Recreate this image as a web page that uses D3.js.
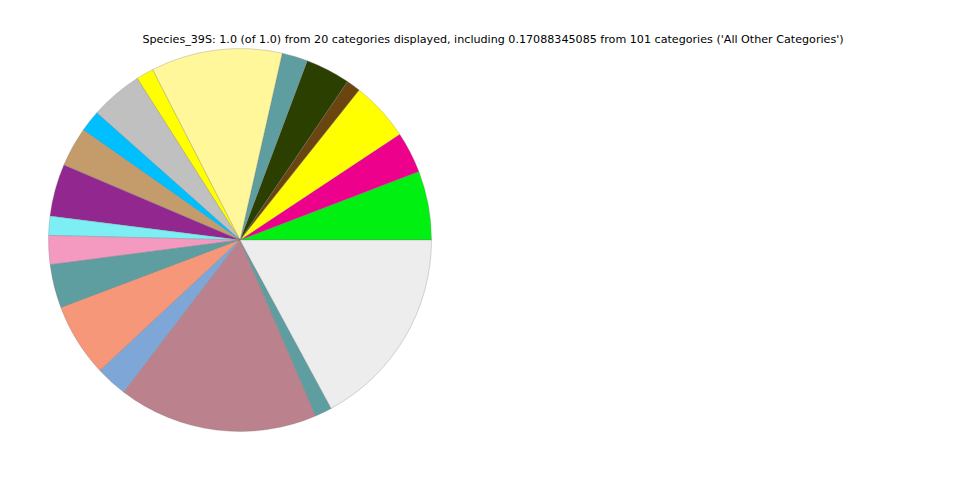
<!DOCTYPE html>
<html><head><meta charset="utf-8">
<script src="https://cdn.jsdelivr.net/npm/d3@7"></script>
<style>body{margin:0;background:#fff}svg{display:block}</style>
</head><body>
<svg id="chart" width="960" height="480"></svg>
<script>
const titleText = "Species_39S: 1.0 (of 1.0) from 20 categories displayed, including 0.17088345085 from 101 categories ('All Other Categories')";
const categories = ["Category 1","Category 2","Category 3","Category 4","Category 5","Category 6","Category 7","Category 8","Category 9","Category 10","Category 11","Category 12","Category 13","Category 14","Category 15","Category 16","Category 17","Category 18","Category 19","All Other Categories"];
const values = [0.0581,0.0349,0.0501,0.0119,0.0378,0.0217,0.1108,0.0147,0.0442,0.0181,0.0333,0.0442,0.0161,0.0244,0.0369,0.0619,0.0267,0.1683,0.0144,0.17088345085];
const colors = ["#00f012","#ec008c","#ffff00","#6b4510","#2a3f00","#5f9ea0","#fff799","#ffff00","#c0c0c0","#00bfff","#c49c6c","#92278f","#7ceef4","#f49ac1","#5f9ea0","#f7977a","#7ea7d8","#bb818c","#5f9ea0","#ededed"];

const svg = d3.select("#chart");
const cx = 240, cy = 240, r = 191.5;

svg.append("text")
  .attr("x", 493).attr("y", 43)
  .attr("text-anchor", "middle")
  .attr("font-family", "DejaVu Sans")
  .attr("font-size", 11.13)
  .attr("fill", "#000")
  .text(titleText);

const data = categories.map((c, i) => ({name: c, value: values[i], color: colors[i]}));
const pie = d3.pie().value(d => d.value).sort(null)
  .startAngle(Math.PI / 2).endAngle(Math.PI / 2 - 2 * Math.PI);
const arc = d3.arc().innerRadius(0).outerRadius(r);

svg.append("g").attr("transform", `translate(${cx},${cy})`)
  .selectAll("path").data(pie(data)).join("path")
  .attr("d", arc)
  .attr("fill", d => d.data.color)
  .attr("stroke", "#777")
  .attr("stroke-width", 0.3)
  .attr("stroke-linejoin", "round");
</script>
</body></html>
